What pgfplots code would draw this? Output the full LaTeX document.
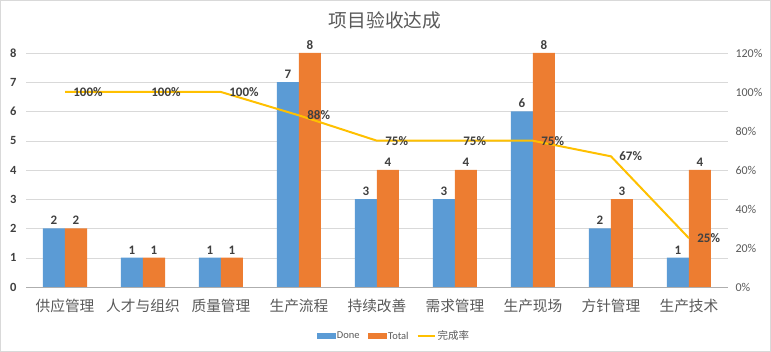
\documentclass[border=0pt]{standalone}
\usepackage{pgfplots}
\pgfplotsset{compat=1.18}
\usepackage{fontspec}
\setmainfont{Carlito}
\newfontfamily\cjk{Noto Sans CJK SC}
\definecolor{cdone}{HTML}{5B9BD5}
\definecolor{ctot}{HTML}{ED7D31}
\definecolor{crate}{HTML}{FFC000}
\definecolor{gridc}{HTML}{D9D9D9}
\definecolor{txt}{HTML}{595959}
\definecolor{lab}{HTML}{404040}

\pgfplotstableread{
x done total
0 2 2
1 1 1
2 1 1
3 7 8
4 3 4
5 3 4
6 6 8
7 2 3
8 1 4
}\bars

\begin{document}
\begin{tikzpicture}
\path[use as bounding box] (0bp,0bp) rectangle (771bp,352bp);
\draw[gridc] (0.5bp,0.5bp) rectangle (770.5bp,351.5bp);
\node[txt, font=\cjk\fontsize{18.7bp}{22bp}\selectfont] at (385bp,332bp) {项目验收达成};
\begin{axis}[
  at={(26bp,65bp)}, anchor=south west, scale only axis,
  width=702bp, height=234bp,
  xmin=-0.5, xmax=8.5, ymin=0, ymax=8,
  /pgf/number format/assume math mode=true,
  ybar=0pt, bar width=22bp,
  axis x line*=bottom, axis y line*=left,
  x axis line style={-, draw=gridc!80!black},
  y axis line style={draw=none},
  ymajorgrids, grid style={gridc},
  ytick={0,1,...,8},
  ytick style={draw=none},
  yticklabel style={font=\bfseries\fontsize{12.5bp}{14bp}\selectfont, text=lab, xshift=-6bp},
  xtick={0,...,8},
  xticklabels={供应管理,人才与组织,质量管理,生产流程,持续改善,需求管理,生产现场,方针管理,生产技术},
  xticklabel style={font=\cjk\fontsize{14.7bp}{17bp}\selectfont, text=txt, yshift=-4bp},
  major x tick style={draw=none},
  extra x ticks={-0.5,0.5,...,8.5},
  extra x tick labels={},
  extra x tick style={tick align=outside, major tick length=5bp, tick style={draw=gridc!80!black}, grid=none},
  nodes near coords,
  every node near coord/.append style={font=\bfseries\fontsize{13bp}{15bp}\selectfont, text=lab},
]
\addplot[fill=cdone, draw=none] table[x=x, y=done] {\bars};
\addplot[fill=ctot, draw=none] table[x=x, y=total] {\bars};
\end{axis}
\begin{axis}[
  at={(26bp,65bp)}, anchor=south west, scale only axis,
  width=702bp, height=234bp,
  xmin=-0.5, xmax=8.5, ymin=0, ymax=120,
  /pgf/number format/assume math mode=true,
  axis x line=none, axis y line*=right,
  y axis line style={draw=none},
  ytick={0,20,...,120},
  ytick style={draw=none},
  yticklabel={\pgfmathprintnumber{\tick}\%},
  yticklabel style={font=\fontsize{12bp}{14bp}\selectfont, text=txt, xshift=4bp},
  legend style={at={(0.524,-0.21)}, anchor=center, draw=none, fill=none,
    legend columns=3, font=\fontsize{10.5bp}{12bp}\selectfont, text=txt,
    /tikz/every even column/.append style={column sep=6bp}},
]
\addlegendimage{legend image code/.code={\fill[cdone] (0bp,-2.5bp) rectangle (18bp,2.5bp);}}
\addlegendimage{legend image code/.code={\fill[ctot] (0bp,-2.5bp) rectangle (18bp,2.5bp);}}
\addplot[crate, line width=2bp, mark=none,
  nodes near coords, point meta=explicit symbolic,
  every node near coord/.append style={anchor=west, xshift=4bp, font=\bfseries\fontsize{13bp}{15bp}\selectfont, text=lab}]
  coordinates {(0,100)[100\%] (1,100)[100\%] (2,100)[100\%] (3,88)[88\%] (4,75)[75\%] (5,75)[75\%] (6,75)[75\%] (7,67)[67\%] (8,25)[25\%]};
\legend{Done,Total,{\cjk 完成率}}
\end{axis}
\end{tikzpicture}
\end{document}
